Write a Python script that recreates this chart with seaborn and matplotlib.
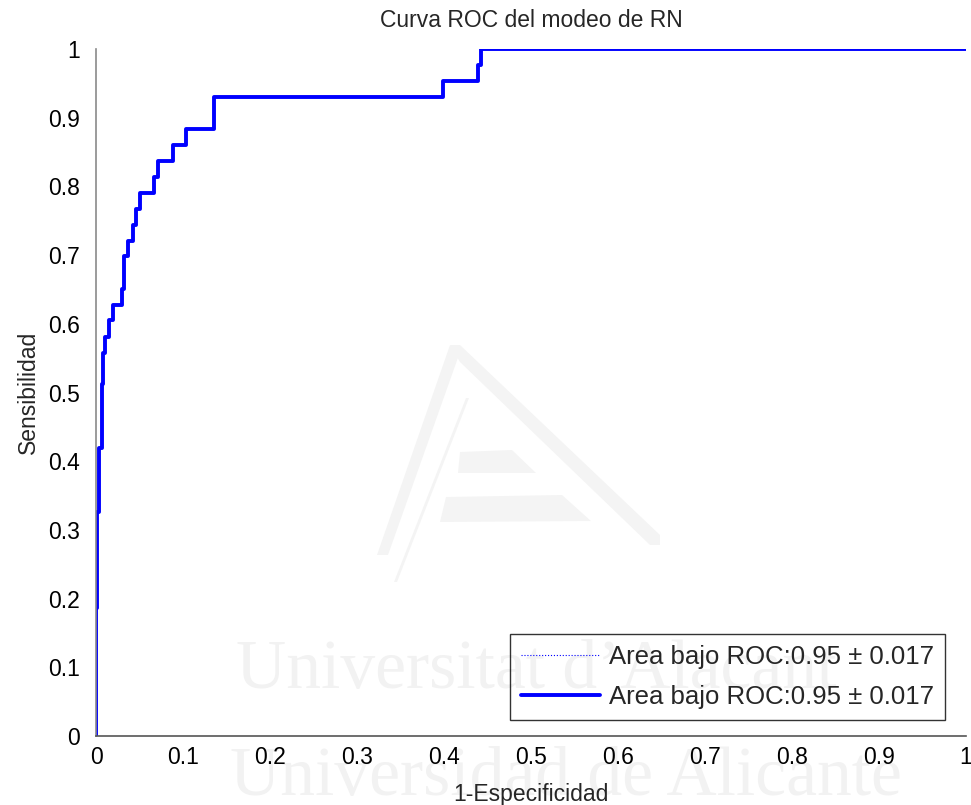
import numpy as np
import pandas as pd
import matplotlib
matplotlib.use("Agg")
import matplotlib.pyplot as plt
import seaborn as sns
from matplotlib.patches import Polygon

# ---- data ----
step_fpr = [0.000, 0.001, 0.004, 0.0065, 0.008, 0.010, 0.015, 0.020, 0.030, 0.0325,
            0.037, 0.043, 0.0456, 0.0506, 0.0667, 0.0716, 0.0889, 0.1034, 0.136,
            0.399, 0.439, 0.443]
step_tpr = [0.186, 0.326, 0.419, 0.512, 0.558, 0.581, 0.605, 0.628, 0.651, 0.698,
            0.721, 0.744, 0.767, 0.791, 0.814, 0.837, 0.860, 0.884, 0.930,
            0.953, 0.977, 1.000]
end_point = (1.0, 1.0)
x_ticks = [0, 0.1, 0.2, 0.3, 0.4, 0.5, 0.6, 0.7, 0.8, 0.9, 1]
y_ticks = [0, 0.1, 0.2, 0.3, 0.4, 0.5, 0.6, 0.7, 0.8, 0.9, 1]
tick_labels = ["0", "0.1", "0.2", "0.3", "0.4", "0.5", "0.6", "0.7", "0.8", "0.9", "1"]
legend_label = "Area bajo ROC:0.95 \u00b1 0.017"
title = "Curva ROC del modeo de RN"
xlabel = "1-Especificidad"
ylabel = "Sensibilidad"

# build the ROC staircase corners from the step data
xs, ys, prev = [0.0], [0.0], 0.0
for fx, ty in zip(step_fpr, step_tpr):
    xs += [fx, fx]
    ys += [prev, ty]
    prev = ty
xs.append(end_point[0]); ys.append(end_point[1])
df = pd.DataFrame({"fpr": xs, "tpr": ys})

sns.set_style("white")
plt.rcParams["font.family"] = ["Liberation Sans", "DejaVu Sans"]

W, H = 971, 805
fig = plt.figure(figsize=(W / 100, H / 100), dpi=100)
ax = fig.add_axes([96 / W, 1 - 736 / H, 870 / W, 687 / H])
ax.set_facecolor("none")

# faint watermark (background decoration)
wm = "#f2f2f2"
fig.text(536 / W, 1 - 688 / H, "Universitat d\u2019Alacant", ha="center", va="baseline",
         fontsize=50, color=wm, family=["Liberation Serif", "DejaVu Serif"], zorder=-5)
fig.text(566 / W, 1 - 795 / H, "Universidad de Alicante", ha="center", va="baseline",
         fontsize=50, color=wm, family=["Liberation Serif", "DejaVu Serif"], zorder=-5)
def fpoly(pts):
    return Polygon([(px / W, 1 - py / H) for px, py in pts], closed=True,
                   transform=fig.transFigure, facecolor="#f4f4f4", edgecolor="none", zorder=-5)
for pts in [
    [(450, 345), (460, 345), (660, 535), (660, 545), (650, 545), (460, 362)],
    [(450, 345), (460, 352), (388, 555), (377, 555)],
    [(466, 398), (469, 398), (397, 582), (394, 582)],
    [(460, 452), (512, 450), (536, 473), (458, 473)],
    [(446, 497), (562, 495), (591, 521), (440, 522)],
]:
    fig.patches.append(fpoly(pts))

sns.lineplot(data=df, x="fpr", y="tpr", estimator=None, sort=False, ax=ax,
             color="blue", linewidth=0.8, linestyle=":", label=legend_label)
sns.lineplot(data=df, x="fpr", y="tpr", estimator=None, sort=False, ax=ax,
             color="blue", linewidth=2.8, label=legend_label)

ax.set_xlim(0, 1)
ax.set_ylim(0, 1)
ax.set_xticks(x_ticks)
ax.set_xticklabels(tick_labels)
ax.set_yticks(y_ticks)
ax.set_yticklabels(tick_labels)
ax.tick_params(axis="both", direction="in", length=7, width=1, color="black",
               labelsize=16.5, labelcolor="black")
ax.tick_params(axis="x", pad=7)
ax.tick_params(axis="y", pad=11.5)
for s in ["top", "right"]:
    ax.spines[s].set_visible(False)
ax.spines["left"].set_color("#8a8a8a")
ax.spines["bottom"].set_color("#555555")
ax.spines["left"].set_linewidth(1.2)
ax.spines["bottom"].set_linewidth(1.2)

ax.set_title(title, fontsize=16.5, pad=16)
ax.set_xlabel(xlabel, fontsize=16.5, labelpad=10)
ax.set_ylabel(ylabel, fontsize=16.5, labelpad=6)

leg = ax.legend(loc="lower right", bbox_to_anchor=(0.976, 0.023), borderaxespad=0,
                fontsize=18.5, handlelength=3.1, handletextpad=0.35, labelspacing=0.65,
                borderpad=0.42, fancybox=False, facecolor="none", edgecolor="black")
leg.get_frame().set_linewidth(1.0)

fig.savefig("out.png", dpi=100)
